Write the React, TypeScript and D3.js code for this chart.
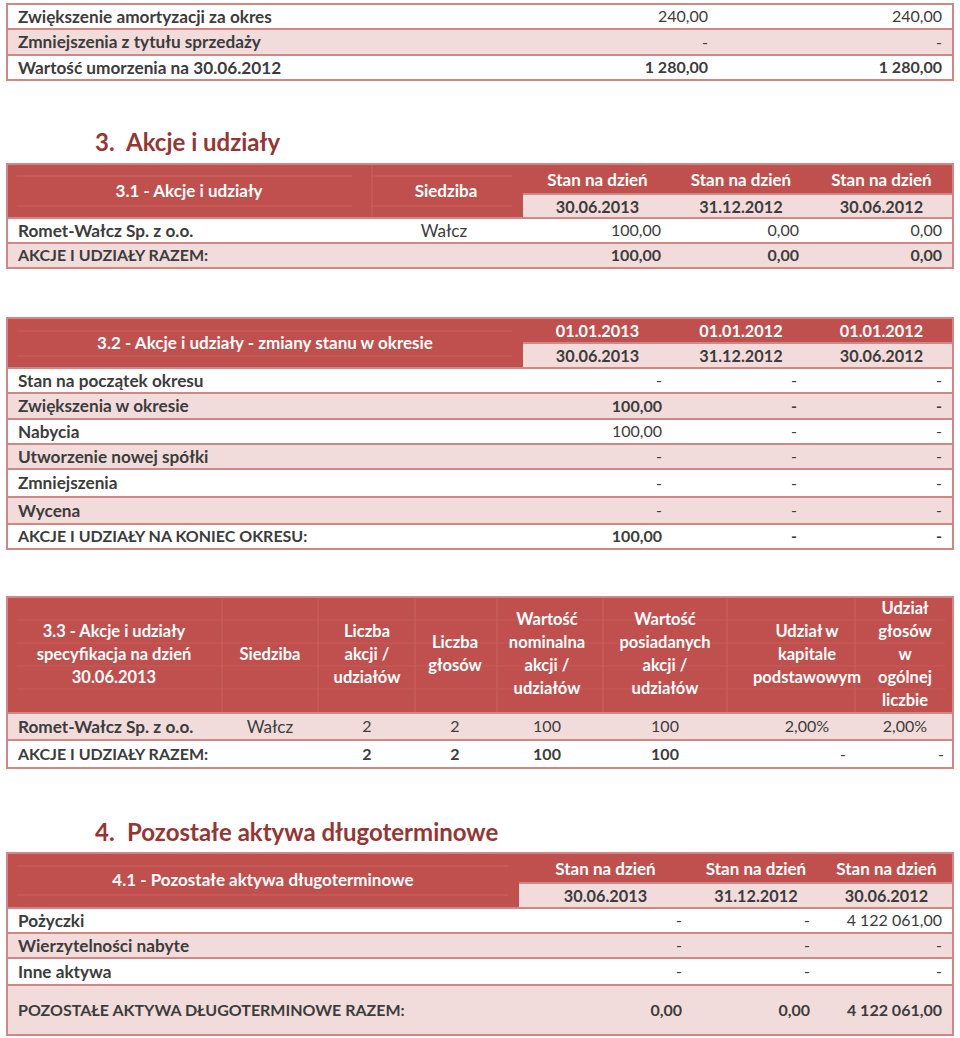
import React, { useEffect, useRef } from "react";
import * as d3 from "d3";

// ---------- DATA ----------
const topLabels = ["Zwiększenie amortyzacji za okres", "Zmniejszenia z tytułu sprzedaży", "Wartość umorzenia na 30.06.2012"];
const topValsA = ["240,00", "-", "1 280,00"];
const topValsB = ["240,00", "-", "1 280,00"];
const topBold = [false, false, true];

const section3Title = ["3.", "Akcje i udziały"];
const section4Title = ["4.", "Pozostałe aktywa długoterminowe"];

const t31Head = ["3.1 - Akcje i udziały", "Siedziba"];
const stanHead = ["Stan na dzień", "Stan na dzień", "Stan na dzień"];
const stanDates = ["30.06.2013", "31.12.2012", "30.06.2012"];
const t31Labels = ["Romet-Wałcz Sp. z o.o.", "AKCJE I UDZIAŁY RAZEM:"];
const t31Seat = ["Wałcz", ""];
const t31Values = [["100,00", "0,00", "0,00"], ["100,00", "0,00", "0,00"]];
const t31Bold = [false, true];

const t32Head = "3.2 - Akcje i udziały - zmiany stanu w okresie";
const t32From = ["01.01.2013", "01.01.2012", "01.01.2012"];
const t32To = ["30.06.2013", "31.12.2012", "30.06.2012"];
const t32Labels = ["Stan na początek okresu", "Zwiększenia w okresie", "Nabycia", "Utworzenie nowej spółki", "Zmniejszenia", "Wycena", "AKCJE I UDZIAŁY NA KONIEC OKRESU:"];
const t32Values = [
  ["-", "-", "-"],
  ["100,00", "-", "-"],
  ["100,00", "-", "-"],
  ["-", "-", "-"],
  ["-", "-", "-"],
  ["-", "-", "-"],
  ["100,00", "-", "-"],
];
const t32Bold = [false, true, false, false, false, false, true];

const t33Head = [
  ["3.3 - Akcje i udziały", "specyfikacja na dzień", "30.06.2013"],
  ["Siedziba"],
  ["Liczba", "akcji /", "udziałów"],
  ["Liczba", "głosów"],
  ["Wartość", "nominalna", "akcji /", "udziałów"],
  ["Wartość", "posiadanych", "akcji /", "udziałów"],
  ["Udział w", "kapitale", "podstawowym"],
  ["Udział", "głosów", "w", "ogólnej", "liczbie"],
];
const t33Labels = ["Romet-Wałcz Sp. z o.o.", "AKCJE I UDZIAŁY RAZEM:"];
const t33Values = [
  ["Wałcz", "2", "2", "100", "100", "2,00%", "2,00%"],
  ["", "2", "2", "100", "100", "-", "-"],
];
const t33Bold = [false, true];

const t41Head = "4.1 - Pozostałe aktywa długoterminowe";
const t41Labels = ["Pożyczki", "Wierzytelności nabyte", "Inne aktywa", "POZOSTAŁE AKTYWA DŁUGOTERMINOWE RAZEM:"];
const t41Values = [
  ["-", "-", "4 122 061,00"],
  ["-", "-", "-"],
  ["-", "-", "-"],
  ["0,00", "0,00", "4 122 061,00"],
];
const t41Bold = [false, false, false, true];

// ---------- STYLE ----------
const FONT = "Lato, 'Open Sans', sans-serif";
const FS_LABEL = 17.2;
const FS_LABEL_CAPS = 16;
const FS_NUM = 16;
const FS_HEAD = 17;
const FS_DATE = 16.3;
const FS_H33 = 16.5;
const RED = "#C0504D";
const RED_LINE = "#C9625F";
const PINK = "#F2DCDB";
const BORDER = "#D08886";
const TEXT = "#3C3C3C";
const TITLE = "#943634";
const X0 = 7;
const X1 = 953;

const labelSize = (s: string) => (s === s.toUpperCase() ? FS_LABEL_CAPS : FS_LABEL);

export default function App() {
  const ref = useRef<SVGSVGElement | null>(null);

  useEffect(() => {
    const svg = d3.select(ref.current);
    svg.selectAll("*").remove();
    const g = svg.append("g");

    const rect = (x: number, y: number, w: number, h: number, fill: string) =>
      g.append("rect").attr("x", x).attr("y", y).attr("width", w).attr("height", h).attr("fill", fill);
    const line = (x1: number, y1: number, x2: number, y2: number, color = BORDER, w = 2) =>
      g.append("line").attr("x1", x1).attr("y1", y1).attr("x2", x2).attr("y2", y2)
        .attr("stroke", color).attr("stroke-width", w);
    const text = (s: string, x: number, y: number, anchor = "start", bold = false, color = TEXT, size = FS_NUM) =>
      g.append("text").attr("x", x).attr("y", y).attr("dy", "0.35em")
        .attr("text-anchor", anchor).attr("font-family", FONT).attr("font-size", size)
        .attr("font-weight", bold ? 700 : 400).attr("fill", color).text(s);
    const label = (s: string, y: number) => text(s, 18, y, "start", true, TEXT, labelSize(s));
    const frame = (y0: number, y1: number) =>
      g.append("rect").attr("x", X0).attr("y", y0).attr("width", X1 - X0).attr("height", y1 - y0)
        .attr("fill", "none").attr("stroke", BORDER).attr("stroke-width", 2);

    const bodyRows = (edges: number[], startPink: boolean) => {
      d3.pairs(edges).forEach(([a, b], i) => {
        const pink = (i % 2 === 0) === startPink;
        rect(X0, a, X1 - X0, b - a, pink ? PINK : "#ffffff");
      });
      edges.forEach((y) => line(X0, y, X1, y));
    };

    // ---- top table ----
    {
      const edges = [4, 29, 55, 80];
      bodyRows(edges, false);
      const rx = d3.scaleOrdinal<number, number>().domain([0, 1]).range([708, 942]);
      d3.pairs(edges).forEach(([a, b], i) => {
        const cy = (a + b) / 2;
        label(topLabels[i], cy);
        text(topValsA[i], rx(0), cy, "end", topBold[i]);
        text(topValsB[i], rx(1), cy, "end", topBold[i]);
      });
      frame(4, 80);
    }

    // ---- section 3 title ----
    text(section3Title[0], 95, 143, "start", true, TITLE, 24);
    text(section3Title[1], 126, 143, "start", true, TITLE, 24);

    // ---- table 3.1 ----
    {
      const top = 164, mid = 194, hb = 218;
      const colEdges = [523, 672, 810, X1];
      rect(X0, top, X1 - X0, hb - top, RED);
      rect(523, mid, X1 - 523, hb - mid, PINK);
      line(17, 176, 352, 176, RED_LINE, 1);
      line(17, 206, 352, 206, RED_LINE, 1);
      line(372, 176, 512, 176, RED_LINE, 1);
      line(372, 206, 512, 206, RED_LINE, 1);
      line(372, top, 372, hb, RED_LINE, 1);
      line(523, mid, X1, mid, BORDER, 2);
      d3.pairs(colEdges).forEach(([a, b], i) => {
        text(stanHead[i], (a + b) / 2, (top + mid) / 2 + 1, "middle", true, "#ffffff", FS_HEAD);
        text(stanDates[i], (a + b) / 2, (mid + hb) / 2 + 1, "middle", true, TEXT, FS_DATE);
      });
      text(t31Head[0], 189, 191, "middle", true, "#ffffff", FS_HEAD);
      text(t31Head[1], 446, 191, "middle", true, "#ffffff", FS_HEAD);
      const edges = [hb, 243, 268];
      bodyRows(edges, false);
      d3.pairs(edges).forEach(([a, b], i) => {
        const cy = (a + b) / 2;
        label(t31Labels[i], cy);
        text(t31Seat[i], 444, cy, "middle", false, TEXT, FS_LABEL);
        t31Values[i].forEach((v, j) => text(v, colEdges[j + 1] - 11, cy, "end", t31Bold[i]));
      });
      frame(top, 268);
    }

    // ---- table 3.2 ----
    {
      const top = 318, mid = 343, hb = 368;
      const colEdges = [523, 672, 810, X1];
      rect(X0, top, X1 - X0, hb - top, RED);
      rect(523, mid, X1 - 523, hb - mid, PINK);
      line(17, 331, 512, 331, RED_LINE, 1);
      line(17, 356, 512, 356, RED_LINE, 1);
      line(523, mid, X1, mid, BORDER, 2);
      d3.pairs(colEdges).forEach(([a, b], i) => {
        text(t32From[i], (a + b) / 2, (top + mid) / 2 + 1, "middle", true, "#ffffff", FS_DATE);
        text(t32To[i], (a + b) / 2, (mid + hb) / 2 + 1, "middle", true, TEXT, FS_DATE);
      });
      text(t32Head, 265, 343, "middle", true, "#ffffff", FS_HEAD);
      const edges = [hb, 393, 419, 444, 469, 497, 524, 549];
      bodyRows(edges, false);
      d3.pairs(edges).forEach(([a, b], i) => {
        const cy = (a + b) / 2;
        label(t32Labels[i], cy);
        t32Values[i].forEach((v, j) => text(v, [662, 797, 942][j], cy, "end", t32Bold[i]));
      });
      frame(top, 549);
    }

    // ---- table 3.3 ----
    {
      const top = 597, hb = 713;
      const centers = [114, 270, 367, 455, 547, 665, 807, 905];
      const vlines = [222, 318, 415, 497, 603, 727, 855];
      rect(X0, top, X1 - X0, hb - top, RED);
      vlines.forEach((x) => line(x, top + 2, x, hb, RED_LINE, 1));
      [620, 643, 666, 689].forEach((y) => line(17, y, 945, y, RED_LINE, 0.6));
      const lh = 23;
      t33Head.forEach((lines, i) => {
        const c = (top + hb) / 2 - 1;
        lines.forEach((s, k) => {
          const y = c + (k - (lines.length - 1) / 2) * lh;
          text(s, centers[i], y, "middle", true, "#ffffff", FS_H33);
        });
      });
      const edges = [hb, 740, 768];
      bodyRows(edges, true);
      d3.pairs(edges).forEach(([a, b], i) => {
        const cy = (a + b) / 2;
        label(t33Labels[i], cy);
        t33Values[i].forEach((v, j) => {
          if (v === "-") text(v, [846, 944][j - 5], cy, "end", false);
          else if (j === 0) text(v, centers[1], cy, "middle", false, TEXT, FS_LABEL);
          else text(v, centers[j + 1], cy, "middle", t33Bold[i]);
        });
      });
      frame(top, 768);
    }

    // ---- section 4 title ----
    text(section4Title[0], 95, 833, "start", true, TITLE, 24);
    text(section4Title[1], 127, 833, "start", true, TITLE, 24);

    // ---- table 4.1 ----
    {
      const top = 853, mid = 883, hb = 908;
      const colEdges = [519, 692, 820, X1];
      rect(X0, top, X1 - X0, hb - top, RED);
      rect(519, mid, X1 - 519, hb - mid, PINK);
      line(17, 866, 508, 866, RED_LINE, 1);
      line(17, 895, 508, 895, RED_LINE, 1);
      line(519, mid, X1, mid, BORDER, 2);
      d3.pairs(colEdges).forEach(([a, b], i) => {
        text(stanHead[i], (a + b) / 2, (top + mid) / 2 + 1, "middle", true, "#ffffff", FS_HEAD);
        text(stanDates[i], (a + b) / 2, (mid + hb) / 2 + 1, "middle", true, TEXT, FS_DATE);
      });
      text(t41Head, 263, 880, "middle", true, "#ffffff", FS_HEAD);
      const edges = [hb, 933, 958, 985, 1035];
      bodyRows(edges, false);
      d3.pairs(edges).forEach(([a, b], i) => {
        const cy = (a + b) / 2;
        label(t41Labels[i], cy);
        t41Values[i].forEach((v, j) => text(v, [682, 810, 942][j], cy, "end", t41Bold[i]));
      });
      frame(top, 1035);
    }
  }, []);

  return (
    <svg
      ref={ref}
      width={960}
      height={1038}
      style={{ position: "absolute", left: 0, top: 0, background: "#ffffff" }}
    />
  );
}
